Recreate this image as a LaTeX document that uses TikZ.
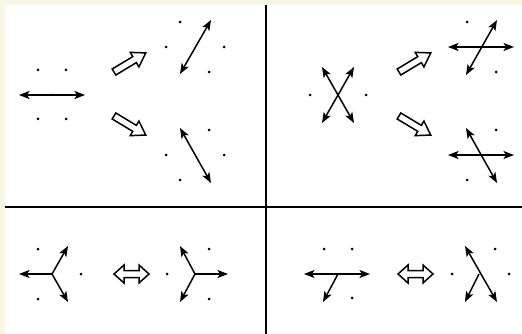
\documentclass[tikz,border=0pt]{standalone}
\usetikzlibrary{arrows.meta}
\definecolor{cream}{HTML}{FAF6E6}
\begin{document}
\begin{tikzpicture}[x=1pt,y=-1pt,
  dotmark/.style={circle,fill=black,inner sep=0pt,minimum size=3pt},
  dbl/.style={line width=1.5pt,{Stealth[length=10.5pt,width=8pt,inset=2.5pt]}-{Stealth[length=10.5pt,width=8pt,inset=2.5pt]}},
  sgl/.style={line width=1.5pt,-{Stealth[length=10.5pt,width=8pt,inset=2.5pt]}},
  divider/.style={line width=1.6pt,black},
  hollowone/.pic={\draw[line width=1.5pt,fill=white,line join=miter]
      (0,-3.5) -- (24,-3.5) -- (24,-8.5) -- (37,0) -- (24,8.5) -- (24,3.5) -- (0,3.5) -- cycle;},
  hollowtwo/.pic={\draw[line width=1.5pt,fill=white,line join=miter]
      (0,0) -- (10,-9) -- (10,-3.5) -- (25,-3.5) -- (25,-9) -- (35,0) -- (25,9) -- (25,3.5) -- (10,3.5) -- (10,9) -- cycle;}
]
\useasboundingbox (0,0) rectangle (522,334);
\fill[cream] (0,0) rectangle (522,334);
\fill[white] (5,5) rectangle (522,334);
% dividers
\coordinate (vt) at (266,5); \coordinate (vb) at (266,334);
\coordinate (hl) at (5,207); \coordinate (hr) at (522,207);
\draw[divider] (vt) -- (vb);
\draw[divider] (hl) -- (hr);

% ---------- panel 1 ----------
\foreach \n/\x/\y in {a1/38/70,a2/66/70,a3/38/119,a4/66/119,
  b1/180/22,b2/166/47,b3/224/47,b4/209/72,
  c1/209/130,c2/166/155,c3/224/155,c4/180/180}
  \node[dotmark] (\n) at (\x,\y) {};
\coordinate (p1l) at (19,95); \coordinate (p1r) at (85,95);
\draw[dbl] (p1l) -- (p1r);
\node[circle,fill=black,inner sep=0pt,minimum size=2.5pt] (p1m) at (52,95) {};
\pic[rotate=31] at (114,72) {hollowone};
\pic[rotate=-31] at (114,116) {hollowone};
\coordinate (p1ua) at (180,74); \coordinate (p1ub) at (211,20);
\draw[dbl] (p1ua) -- (p1ub);
\coordinate (p1da) at (180,128); \coordinate (p1db) at (211,183);
\draw[dbl] (p1da) -- (p1db);

% ---------- panel 2 ----------
\foreach \n/\x/\y in {d1/310/95,d2/366/95,
  e1/467/22,e2/496/72,f1/496/130,f2/467/180}
  \node[dotmark] (\n) at (\x,\y) {};
\coordinate (x1a) at (322,67); \coordinate (x1b) at (354,123);
\coordinate (x2a) at (354,67); \coordinate (x2b) at (322,123);
\draw[dbl] (x1a) -- (x1b);
\draw[dbl] (x2a) -- (x2b);
\pic[rotate=31] at (399,72) {hollowone};
\pic[rotate=-31] at (399,116) {hollowone};
\coordinate (q1l) at (448,47); \coordinate (q1r) at (514,47);
\coordinate (q1a) at (466,75); \coordinate (q1b) at (497,20);
\draw[dbl] (q1l) -- (q1r);
\draw[dbl] (q1a) -- (q1b);
\coordinate (q2l) at (448,155); \coordinate (q2r) at (514,155);
\coordinate (q2a) at (466,128); \coordinate (q2b) at (497,183);
\draw[dbl] (q2l) -- (q2r);
\draw[dbl] (q2a) -- (q2b);

% ---------- panel 3 ----------
\foreach \n/\x/\y in {g1/38/249,g2/81/274,g3/38/299,
  h1/209/249,h2/167/274,h3/209/299}
  \node[dotmark] (\n) at (\x,\y) {};
\coordinate (y1c) at (52,274);
\coordinate (y1l) at (19,274); \coordinate (y1u) at (68,246); \coordinate (y1d) at (68,302);
\draw[sgl] (y1c) -- (y1l);
\draw[sgl] (y1c) -- (y1u);
\draw[sgl] (y1c) -- (y1d);
\pic at (114,274) {hollowtwo};
\coordinate (y2c) at (195,274);
\coordinate (y2r) at (228,274); \coordinate (y2u) at (180,246); \coordinate (y2d) at (180,302);
\draw[sgl] (y2c) -- (y2r);
\draw[sgl] (y2c) -- (y2u);
\draw[sgl] (y2c) -- (y2d);

% ---------- panel 4 ----------
\foreach \n/\x/\y in {k1/324/249,k2/352/249,k3/352/298,
  m1/452/274,m2/495/249,m3/509/274}
  \node[dotmark] (\n) at (\x,\y) {};
\coordinate (t1l) at (304,274); \coordinate (t1r) at (370,274);
\coordinate (t1c) at (338,274); \coordinate (t1d) at (323,302);
\draw[dbl] (t1l) -- (t1r);
\draw[sgl] (t1c) -- (t1d);
\pic at (398,274) {hollowtwo};
\coordinate (t2a) at (465,246); \coordinate (t2b) at (497,302);
\coordinate (t2c) at (479,274); \coordinate (t2d) at (465,302);
\draw[dbl] (t2a) -- (t2b);
\draw[sgl] (t2c) -- (t2d);
\end{tikzpicture}
\end{document}
